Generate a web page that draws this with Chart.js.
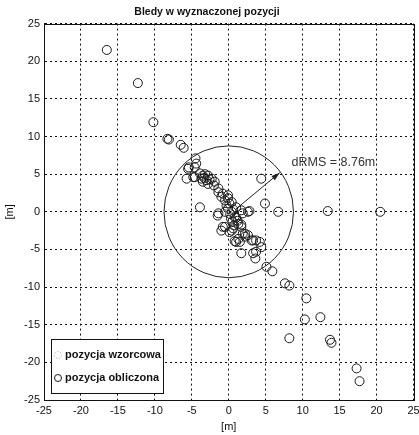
<!DOCTYPE html>
<html>
<head>
<meta charset="utf-8">
<script src="https://cdn.jsdelivr.net/npm/chart.js@4.4.0/dist/chart.umd.min.js"></script>
<style>
  html, body { margin: 0; padding: 0; background: #fff; }
  #wrap { width: 419px; height: 435px; }
</style>
</head>
<body>
<div id="wrap"><canvas id="chart"></canvas></div>
<script>
/* global document, Chart */

// Axis ticks
const tickValues = [-25, -20, -15, -10, -5, 0, 5, 10, 15, 20, 25];

// Computed positions (pozycja obliczona), in metres
const measuredX = [
  -16.5, -12.3, -10.2, -8.3, -8.1, -6.5, -6.1,
  -4.5, -4.4, -4.6, -5.4, -5.5, -5.7, -4.8, -4.6,
  -3.9, -3.5, -3.2, -2.8, -3.7, -3.0, -2.3, -1.9, -2.8, -3.5, -3.3, -2.6, -2.0,
  -1.4, -1.4, -0.8, -1.0, -0.1, -0.5, -0.1, 0.4, 0.1, -0.3, 1.0, -0.1, 0.4, -0.5,
  0.2, 0.6, 0.8, 0.3, 0.5, 1.0, 0.7, 1.2,
  -1.4, -1.5, -3.9,
  1.7, 1.9, 2.6, 2.8, 4.9, 4.4, 6.7, 13.4, 20.5,
  1.3, 1.7, 1.7, 0.6, -0.5, -0.8, -1.0, 0.1, 0.4, 2.2, 1.9, 2.6, 2.2, 1.3,
  3.1, 3.3, 3.7, 4.2, 1.5, 0.8, 1.0, 4.4, 3.7, 1.7, 3.3, 3.6,
  5.1, 5.9, 7.6, 8.2, 10.5, 10.3, 12.4, 8.2, 13.7, 13.9, 17.3, 17.7
];
const measuredY = [
  21.5, 17.1, 11.9, 9.7, 9.6, 8.9, 8.5,
  7.1, 6.4, 5.9, 5.9, 5.7, 4.4, 4.6, 4.6,
  5.1, 4.8, 5.0, 4.8, 4.4, 4.2, 4.4, 4.0, 3.7, 4.0, 4.5, 4.3, 3.5,
  3.1, 2.6, 2.4, 2.0, 2.2, 1.5, 1.8, 1.3, 1.1, 0.8, 0.6, 0.4, 0.0, 0.0,
  -0.3, 0.3, -0.7, -0.9, -1.3, -0.8, -1.8, -1.2,
  -0.2, -0.5, 0.6,
  0.2, -0.2, 0.0, 0.1, 1.1, 4.4, 0.0, 0.1, 0.0,
  -1.6, -1.7, -2.0, -2.2, -2.0, -2.0, -2.5, -2.7, -2.5, -2.9, -2.9, -3.1, -3.3, -3.6,
  -3.8, -3.8, -3.8, -4.0, -4.0, -3.9, -4.0, -4.7, -5.3, -5.5, -5.5, -6.2,
  -7.3, -7.9, -9.5, -9.8, -11.5, -14.3, -14.0, -16.8, -17.0, -17.4, -20.8, -22.5
];

// Reference position (pozycja wzorcowa)
const referenceX = [0];
const referenceY = [0];

// dRMS circle and annotation
const dRms = 8.76;
const arrowFrom = [0.9, 0.3];
const arrowTo = [6.9, 5.2];
const dRmsLabelAt = [8.5, 6.6];

const fontFamily = "'Liberation Sans', Arial, sans-serif";
const ink = "#111111";

// Frame around the axes
const framePlugin = {
  id: "frame",
  afterDraw(chart) {
    const {ctx, chartArea: a} = chart;
    ctx.save();
    ctx.strokeStyle = ink;
    ctx.lineWidth = 1;
    ctx.strokeRect(Math.round(a.left) + 0.5, Math.round(a.top) + 0.5,
      Math.round(a.right - a.left), Math.round(a.bottom - a.top));
    ctx.restore();
  }
};

// dRMS circle, arrow and text
const dRmsPlugin = {
  id: "drms",
  afterDatasetsDraw(chart) {
    const {ctx, scales: {x, y}} = chart;
    const cx = x.getPixelForValue(0);
    const cy = y.getPixelForValue(0);
    const rx = x.getPixelForValue(dRms) - cx;
    const ry = cy - y.getPixelForValue(dRms);
    ctx.save();
    ctx.strokeStyle = "#222";
    ctx.lineWidth = 1;
    ctx.beginPath();
    ctx.ellipse(cx, cy, rx, ry, 0, 0, Math.PI * 2);
    ctx.stroke();

    const x0 = x.getPixelForValue(arrowFrom[0]);
    const y0 = y.getPixelForValue(arrowFrom[1]);
    const x1 = x.getPixelForValue(arrowTo[0]);
    const y1 = y.getPixelForValue(arrowTo[1]);
    ctx.beginPath();
    ctx.moveTo(x0, y0);
    ctx.lineTo(x1, y1);
    ctx.stroke();
    const ang = Math.atan2(y1 - y0, x1 - x0);
    ctx.beginPath();
    ctx.moveTo(x1, y1);
    ctx.lineTo(x1 - 9 * Math.cos(ang - 0.3), y1 - 9 * Math.sin(ang - 0.3));
    ctx.lineTo(x1 - 9 * Math.cos(ang + 0.3), y1 - 9 * Math.sin(ang + 0.3));
    ctx.closePath();
    ctx.fillStyle = "#222";
    ctx.fill();

    ctx.font = "12.5px " + fontFamily;
    ctx.fillStyle = "#333";
    ctx.textAlign = "left";
    ctx.textBaseline = "middle";
    ctx.fillText("dRMS = " + dRms.toFixed(2) + "m",
      x.getPixelForValue(dRmsLabelAt[0]), y.getPixelForValue(dRmsLabelAt[1]));
    ctx.restore();
  }
};

// Legend box in the lower left corner
const boxLegendPlugin = {
  id: "boxLegend",
  afterDraw(chart) {
    const {ctx, chartArea: a} = chart;
    const left = a.left + 7, top = a.bottom - 61, w = 112, h = 54;
    ctx.save();
    ctx.fillStyle = "#fff";
    ctx.fillRect(left, top, w, h);
    ctx.strokeStyle = ink;
    ctx.lineWidth = 1;
    ctx.strokeRect(left + 0.5, top + 0.5, w, h);
    ctx.font = "bold 11px " + fontFamily;
    ctx.textBaseline = "middle";
    chart.data.datasets.forEach((ds, i) => {
      const yy = top + 16 + i * 23;
      ctx.beginPath();
      ctx.setLineDash(i === 0 ? [1.5, 1.5] : []);
      ctx.strokeStyle = ds.borderColor;
      ctx.arc(left + 7, yy, 3.5, 0, Math.PI * 2);
      ctx.stroke();
      ctx.setLineDash([]);
      ctx.fillStyle = ink;
      ctx.fillText(ds.label, left + 14, yy);
    });
    ctx.restore();
  }
};

const axisCommon = {
  type: "linear",
  min: -25,
  max: 25,
  afterBuildTicks: scale => {
    scale.ticks = tickValues.map(value => ({value}));
  },
  grid: {
    color: ink,
    lineWidth: 1,
    drawTicks: false
  },
  border: {
    display: true,
    color: ink,
    dash: [2, 3]
  },
  ticks: {
    color: ink,
    font: {size: 11, family: fontFamily},
    padding: 4
  },
  title: {
    display: true,
    text: "[m]",
    color: ink,
    font: {size: 11, family: fontFamily},
    padding: {top: 3, bottom: 1}
  }
};

new Chart(document.getElementById("chart"), {
  type: "scatter",
  data: {
    datasets: [
      {
        label: "pozycja wzorcowa",
        data: referenceX.map((x, i) => ({x, y: referenceY[i]})),
        borderColor: "#bbbbbb",
        backgroundColor: "rgba(0,0,0,0)",
        pointRadius: 3,
        borderWidth: 1
      },
      {
        label: "pozycja obliczona",
        data: measuredX.map((x, i) => ({x, y: measuredY[i]})),
        borderColor: "#1a1a1a",
        backgroundColor: "rgba(0,0,0,0)",
        pointRadius: 4.5,
        borderWidth: 1
      }
    ]
  },
  options: {
    responsive: true,
    maintainAspectRatio: false,
    animation: false,
    layout: {padding: {left: 0, right: 5, top: 0, bottom: 0}},
    scales: {
      x: {
        ...axisCommon,
        position: "bottom",
        afterFit: scale => {
          scale.height = 35;
          scale.paddingLeft = 0;
          scale.paddingRight = 0;
        }
      },
      y: {
        ...axisCommon,
        position: "left",
        afterFit: scale => {
          scale.width = 44;
          scale.paddingTop = 0;
          scale.paddingBottom = 0;
        }
      }
    },
    plugins: {
      legend: {display: false},
      tooltip: {enabled: false},
      title: {
        display: true,
        text: "Bledy w wyznaczonej pozycji",
        color: ink,
        font: {size: 10.5, weight: "bold", family: fontFamily},
        padding: {top: 6, bottom: 5}
      }
    }
  },
  plugins: [dRmsPlugin, framePlugin, boxLegendPlugin]
});
</script>
</body>
</html>
